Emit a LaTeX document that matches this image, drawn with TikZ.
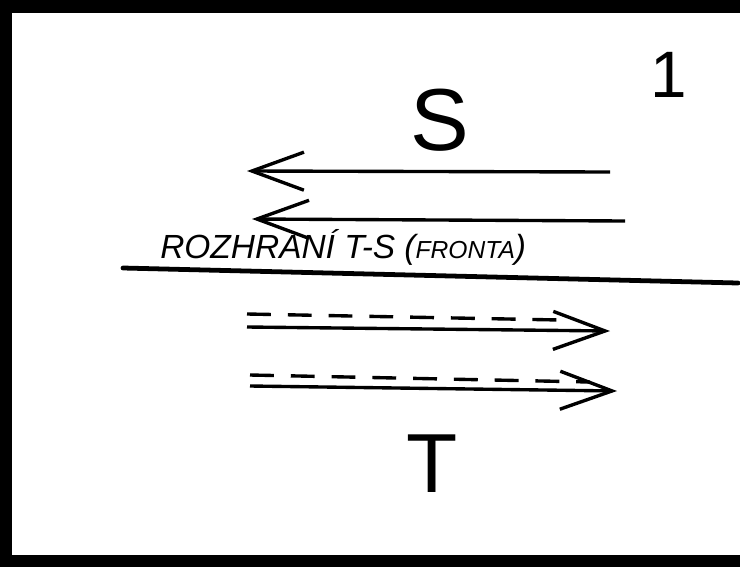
\documentclass[tikz,border=0pt]{standalone}
\usepackage{fontspec}
\setmainfont{Liberation Sans}
\usetikzlibrary{arrows.meta}

\begin{document}
\begin{tikzpicture}[x=0.025cm,y=-0.025cm,
  glyph/.style={inner sep=0pt,anchor=base,font=\fontsize{#1}{#1}\selectfont},
  flow/.style={line width=2.4pt,-{Straight Barb[length=1.3cm,width=0.95cm]}},
  trail/.style={line width=2.4pt,dash pattern=on 17pt off 12pt},
  front/.style={line width=3.4pt,line cap=round}]
\useasboundingbox (0,0) rectangle (740,567);
% frame
\fill (0,0) rectangle (740,13);
\fill (0,0) rectangle (12,567);
\fill (0,555) rectangle (740,567);
% labels
\node[glyph=46.7] (num) at (669,97) {1};
\node[glyph=62.6] (lblS) at (440,150) {S};
\node[glyph=59.6] (lblT) at (432,492) {T};
\node[inner sep=0pt,anchor=base west,font=\itshape\fontsize{23.8}{24}\selectfont] (iface) at (160,258)
  {ROZHRANÍ T-S ({\fontsize{17.5}{18}\selectfont FRONTA})};
% interface line
\coordinate (ifl) at (123,268); \coordinate (ifr) at (738,283);
\draw[front] (ifl) -- (ifr);
% S side
\coordinate (s1r) at (610,172); \coordinate (s1l) at (247,171);
\coordinate (s2r) at (625,221); \coordinate (s2l) at (252,219);
\draw[flow] (s1r) -- (s1l);
\draw[flow] (s2r) -- (s2l);
% T side
\coordinate (t1l) at (247,327); \coordinate (t1r) at (610,331);
\coordinate (d1l) at (247,314); \coordinate (d1r) at (560,320);
\coordinate (t2l) at (250,386); \coordinate (t2r) at (617,391);
\coordinate (d2l) at (250,375); \coordinate (d2r) at (590,382);
\draw[flow] (t1l) -- (t1r); \draw[trail] (d1l) -- (d1r);
\draw[flow] (t2l) -- (t2r); \draw[trail] (d2l) -- (d2r);
\end{tikzpicture}
\end{document}
